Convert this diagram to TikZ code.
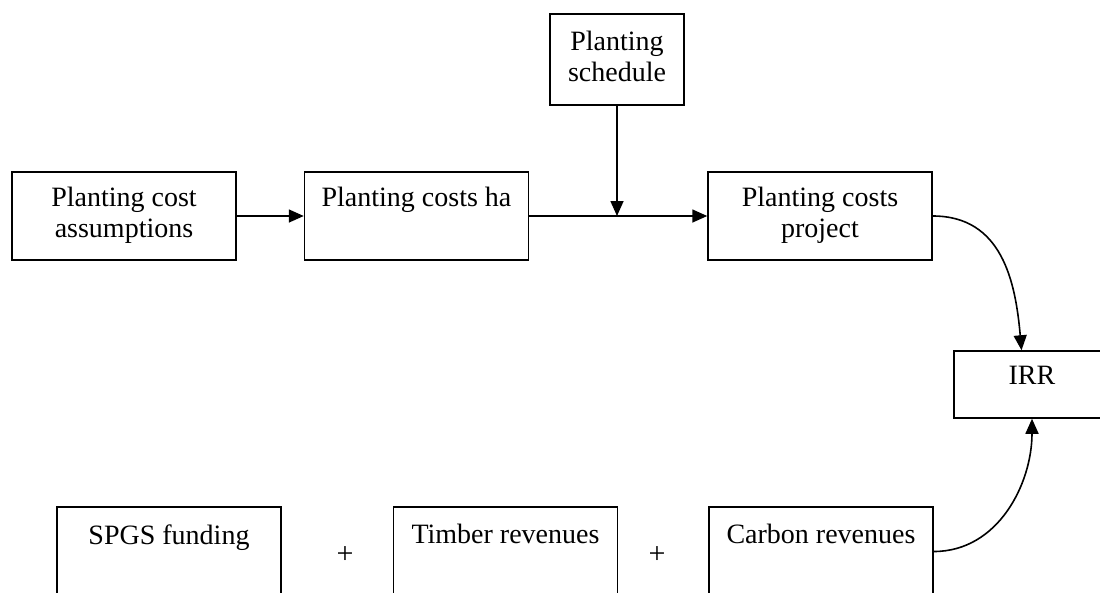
\documentclass[tikz,border=0pt]{standalone}
\usepackage{fontspec}
\setmainfont{Liberation Serif}
\usetikzlibrary{positioning,arrows.meta}

\begin{document}
\begin{tikzpicture}[x=1pt, y=-1pt, node distance={67pt},
  box/.style = {draw, line width=1.5pt, minimum width=224pt, minimum height=88pt, inner sep=0pt},
  txt/.style = {anchor=north, yshift=-16pt, inner sep=0pt, align=center, font=\fontsize{28}{31}\selectfont},
  plus/.style = {inner sep=0pt, font=\fontsize{30}{30}\selectfont},
  link/.style = {line width=1.6pt, -{Triangle[length=15pt, width=13pt]}}]
  \clip (0,0) rectangle (1100,592);
  % boxes
  \node[box] (assump) at (124,216) {};
  \node[box] (ha) [right=of assump] {};
  \node[box] (proj) [right=178pt of ha] {};
  \node[box, minimum width=134pt, minimum height=91pt] (sched) at (617,59.5) {};
  \node[box, minimum width=156pt, minimum height=67pt] (irr) at (1032,384.5) {};
  \node[box, minimum height=89pt] (spgs) at (169,551.5) {};
  \node[box, minimum height=89pt] (timber) [right=111pt of spgs] {};
  \node[box, minimum height=89pt] (carbon) [right=90pt of timber] {};
  % texts
  \node[txt] (assumpT) at (assump.north) {Planting cost\\assumptions};
  \node[txt] (haT) at (ha.north) {Planting costs ha};
  \node[txt] (projT) at (proj.north) {Planting costs\\project};
  \node[txt, yshift=-2pt] (schedT) at (sched.north) {Planting\\schedule};
  \node[txt] (irrT) at (irr.north) {IRR};
  \node[txt, yshift=-2pt] (spgsT) at (spgs.north) {SPGS funding};
  \node[txt, yshift=-2pt] (timberT) at (timber.north) {Timber revenues};
  \node[txt, yshift=-2pt] (carbonT) at (carbon.north) {Carbon revenues};
  \node[plus] (plusA) at (345,555) {+};
  \node[plus] (plusB) at (657,555) {+};
  % arrows
  \coordinate (join) at (sched.south |- ha.east);
  \draw[link] (assump) -- (ha);
  \draw[link] (ha) -- (proj);
  \draw[link] (sched) -- (join);
  \draw[link] (proj.east) to[out=0, in=95, looseness=1.1] (irr.107);
  \draw[link] (carbon.east) to[out=0, in=-90] (irr.south);
\end{tikzpicture}
\end{document}
